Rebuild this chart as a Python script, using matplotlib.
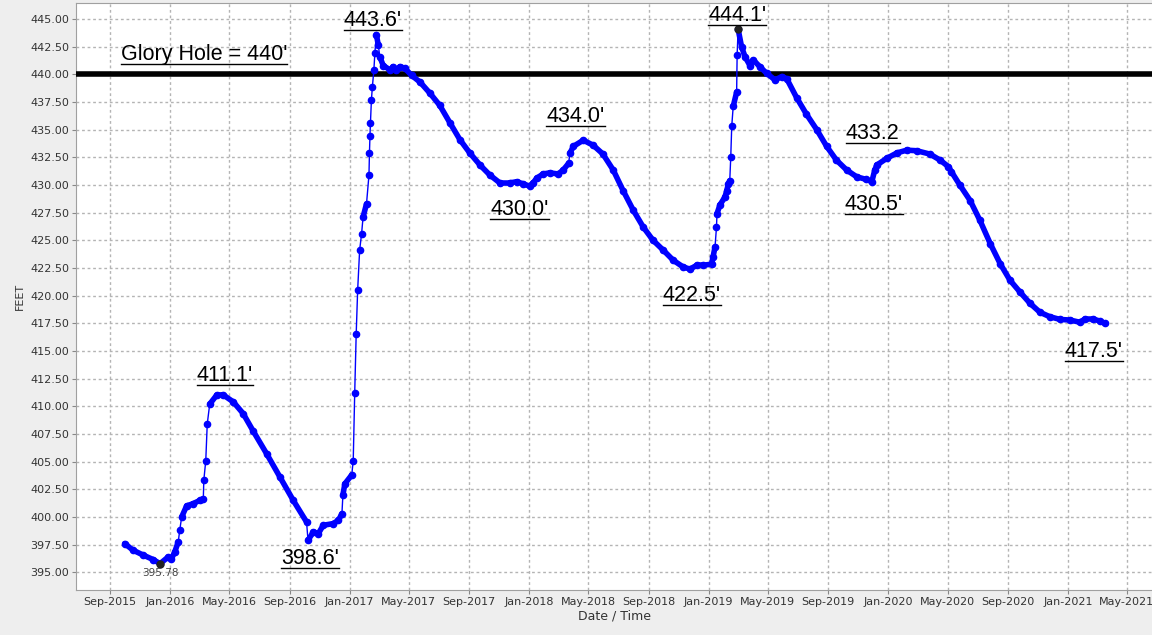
import numpy as np
import pandas as pd
import matplotlib
matplotlib.use("Agg")
import matplotlib.pyplot as plt
import matplotlib.dates as mdates
from matplotlib.lines import Line2D
from matplotlib.collections import LineCollection
from matplotlib.ticker import MultipleLocator, FormatStrFormatter

# Reservoir elevation readings (feet)
dates = [
    "2015-10-01", "2015-10-18", "2015-11-08", "2015-11-28", "2015-12-12", "2015-12-29",
    "2016-01-04", "2016-01-11", "2016-01-18", "2016-01-21", "2016-01-25", "2016-02-04",
    "2016-02-17", "2016-03-02", "2016-03-09", "2016-03-10", "2016-03-14", "2016-03-17",
    "2016-03-22", "2016-04-05", "2016-04-18", "2016-05-09", "2016-05-29", "2016-06-18",
    "2016-07-16", "2016-08-12", "2016-09-08", "2016-10-05", "2016-10-08", "2016-10-19",
    "2016-10-29", "2016-11-08", "2016-11-28", "2016-12-09", "2016-12-16", "2016-12-18",
    "2016-12-22", "2017-01-05", "2017-01-08", "2017-01-11", "2017-01-14", "2017-01-17",
    "2017-01-21", "2017-01-25", "2017-01-28", "2017-02-04", "2017-02-09", "2017-02-10",
    "2017-02-11", "2017-02-12", "2017-02-14", "2017-02-16", "2017-02-19", "2017-02-21",
    "2017-02-24", "2017-02-28", "2017-03-03", "2017-03-10", "2017-03-24", "2017-03-30",
    "2017-04-06", "2017-04-13", "2017-04-23", "2017-05-07", "2017-05-24", "2017-06-13",
    "2017-07-03", "2017-07-24", "2017-08-13", "2017-09-02", "2017-09-23", "2017-10-13",
    "2017-11-02", "2017-11-23", "2017-12-07", "2017-12-20", "2018-01-02", "2018-01-09",
    "2018-01-16", "2018-01-29", "2018-02-12", "2018-03-01", "2018-03-11", "2018-03-22",
    "2018-03-25", "2018-04-01", "2018-04-21", "2018-05-11", "2018-05-31", "2018-06-21",
    "2018-07-11", "2018-08-01", "2018-08-21", "2018-09-10", "2018-10-01", "2018-10-21",
    "2018-11-10", "2018-11-24", "2018-12-08", "2018-12-21", "2019-01-07", "2019-01-10",
    "2019-01-14", "2019-01-17", "2019-01-18", "2019-01-24", "2019-02-03", "2019-02-07",
    "2019-02-10", "2019-02-13", "2019-02-15", "2019-02-17", "2019-02-20", "2019-02-27",
    "2019-02-28", "2019-03-02", "2019-03-09", "2019-03-16", "2019-03-26", "2019-04-02",
    "2019-04-15", "2019-04-29", "2019-05-16", "2019-05-30", "2019-06-09", "2019-06-29",
    "2019-07-19", "2019-08-09", "2019-08-29", "2019-09-18", "2019-10-09", "2019-10-29",
    "2019-11-18", "2019-11-29", "2019-12-05", "2019-12-09", "2019-12-29", "2020-01-19",
    "2020-02-08", "2020-02-28", "2020-03-26", "2020-04-16", "2020-05-03", "2020-05-09",
    "2020-05-26", "2020-06-16", "2020-07-06", "2020-07-27", "2020-08-16", "2020-09-05",
    "2020-09-25", "2020-10-16", "2020-11-05", "2020-11-25", "2020-12-16", "2021-01-05",
    "2021-01-25", "2021-02-05", "2021-02-21", "2021-03-07", "2021-03-17",
]
levels = [
    397.6, 397.0, 396.55, 396.15, 395.78, 396.4,
    396.2, 396.85, 397.75, 398.8, 400.0, 401.0,
    401.2, 401.5, 401.65, 403.3, 405.1, 408.4,
    410.2, 411.0, 411.05, 410.4, 409.35, 407.8,
    405.7, 403.6, 401.5, 399.55, 397.9, 398.65,
    398.5, 399.25, 399.4, 399.7, 400.3, 402.0,
    403.0, 403.8, 405.1, 411.2, 416.5, 420.5,
    424.1, 425.6, 427.1, 428.3, 430.9, 432.9,
    434.4, 435.6, 437.7, 438.9, 440.4, 441.9,
    443.6, 442.65, 441.6, 440.8, 440.4, 440.7,
    440.4, 440.7, 440.55, 439.9, 439.3, 438.3,
    437.2, 435.6, 434.1, 432.9, 431.8, 430.9,
    430.2, 430.2, 430.3, 430.1, 429.9, 430.2,
    430.6, 431.0, 431.1, 431.0, 431.35, 431.95,
    432.9, 433.5, 434.05, 433.6, 432.8, 431.35,
    429.5, 427.7, 426.2, 425.0, 424.1, 423.2,
    422.6, 422.4, 422.75, 422.75, 422.85, 423.5,
    424.4, 426.2, 427.4, 428.2, 428.9, 429.5,
    430.1, 430.4, 432.5, 435.3, 437.1, 438.4,
    441.75, 444.1, 442.5, 441.6, 440.8, 441.3,
    440.7, 440.1, 439.5, 439.8, 439.6, 437.9,
    436.4, 435.0, 433.5, 432.25, 431.35, 430.75,
    430.5, 430.3, 431.35, 431.8, 432.4, 432.9,
    433.15, 433.1, 432.8, 432.25, 431.65, 431.2,
    430.0, 428.6, 426.8, 424.7, 422.9, 421.4,
    420.35, 419.3, 418.5, 418.1, 417.85, 417.8,
    417.6, 417.9, 417.9, 417.7, 417.5,
]

glory_hole = 440.0
min_date, min_level = "2015-12-12", 395.78
peak_date, peak_level = "2019-03-02", 444.1

# callout labels: (text, anchor date, anchor level)
label_texts = ["443.6'", "444.1'", "434.0'", "430.0'", "433.2", "430.5'",
               "411.1'", "398.6'", "422.5'", "417.5'"]
label_dates = ["2017-02-17", "2019-02-28", "2018-04-05", "2017-12-12", "2019-12-01",
               "2019-12-03", "2016-04-22", "2016-10-12", "2018-11-28", "2021-02-22"]
label_levels = [444.4, 444.8, 435.7, 427.3, 434.15, 427.7, 412.3, 395.75, 419.5, 414.5]

df = pd.DataFrame({"date": pd.to_datetime(dates), "level": levels})

fig = plt.figure(figsize=(11.52, 6.35), dpi=100, facecolor="#eeeeee")
ax = fig.add_axes([76 / 1152, 45 / 635, 1 - 76 / 1152, 587 / 635])
ax.set_facecolor("white")

ax.grid(True, color="#b4b4b4", linestyle=(0, (2, 2)), linewidth=1)
ax.set_axisbelow(True)

ax.axhline(glory_hole, color="black", linewidth=4, zorder=3)

# fast fills are drawn as a thin line, slow drift as a dense thick trace
x = mdates.date2num(df["date"])
y = df["level"].to_numpy()
segs = np.stack([np.column_stack([x[:-1], y[:-1]]), np.column_stack([x[1:], y[1:]])], axis=1)
rate = np.abs(np.diff(y)) / np.diff(x)
widths = np.where(rate > 0.25, 1.0, 4.0)
ax.add_collection(LineCollection(segs, linewidths=widths, colors="#0000ff",
                                 capstyle="round", zorder=4))
ax.plot(df["date"], df["level"], linestyle="none", marker="o", color="#0000ff",
        markersize=4.5, zorder=4)
ax.plot(pd.to_datetime([min_date, peak_date]), [min_level, peak_level], "o",
        color="#222222", markersize=5, zorder=5)

ax.set_xlim(pd.Timestamp("2015-06-24"), pd.Timestamp("2021-06-21"))
ax.set_ylim(393.4, 446.45)
ax.yaxis.set_major_locator(MultipleLocator(2.5))
ax.yaxis.set_major_formatter(FormatStrFormatter("%.2f"))
ax.xaxis.set_major_locator(mdates.MonthLocator(bymonth=[1, 5, 9]))
ax.xaxis.set_major_formatter(mdates.DateFormatter("%b-%Y"))

ax.tick_params(axis="both", labelsize=8, labelcolor="#333333", color="#888888",
               length=3, pad=2)
for side in ["top", "left", "bottom"]:
    ax.spines[side].set_color("#a0a0a0")
ax.spines["right"].set_visible(False)

ax.set_ylabel("FEET", fontsize=8, color="#333333", labelpad=4)
ax.set_xlabel("Date / Time", fontsize=9, color="#333333", labelpad=2)

ax.text(pd.Timestamp(min_date), 394.65, "395.78", fontsize=7.5, color="#444444",
        ha="center", va="baseline", zorder=6)

font = "Liberation Sans"
texts = []
texts.append(ax.text(pd.Timestamp("2015-09-23"), 441.3, "Glory Hole = 440'",
                     fontsize=15.5, family=font, ha="left", va="baseline", zorder=6))
for t, d, v in zip(label_texts, label_dates, label_levels):
    texts.append(ax.text(pd.Timestamp(d), v, t, fontsize=15.5, family=font,
                         ha="center", va="baseline", zorder=6))

# underline the callouts
renderer = fig.canvas.get_renderer()
inv = fig.transFigure.inverted()
for t in texts:
    bb = t.get_window_extent(renderer)
    (x0, y0), (x1, _) = inv.transform([[bb.x0, bb.y0 + 1], [bb.x1, bb.y1]])
    fig.add_artist(Line2D([x0, x1], [y0, y0], transform=fig.transFigure,
                          color="black", linewidth=1))

fig.savefig("out.png", dpi=100, facecolor=fig.get_facecolor())
